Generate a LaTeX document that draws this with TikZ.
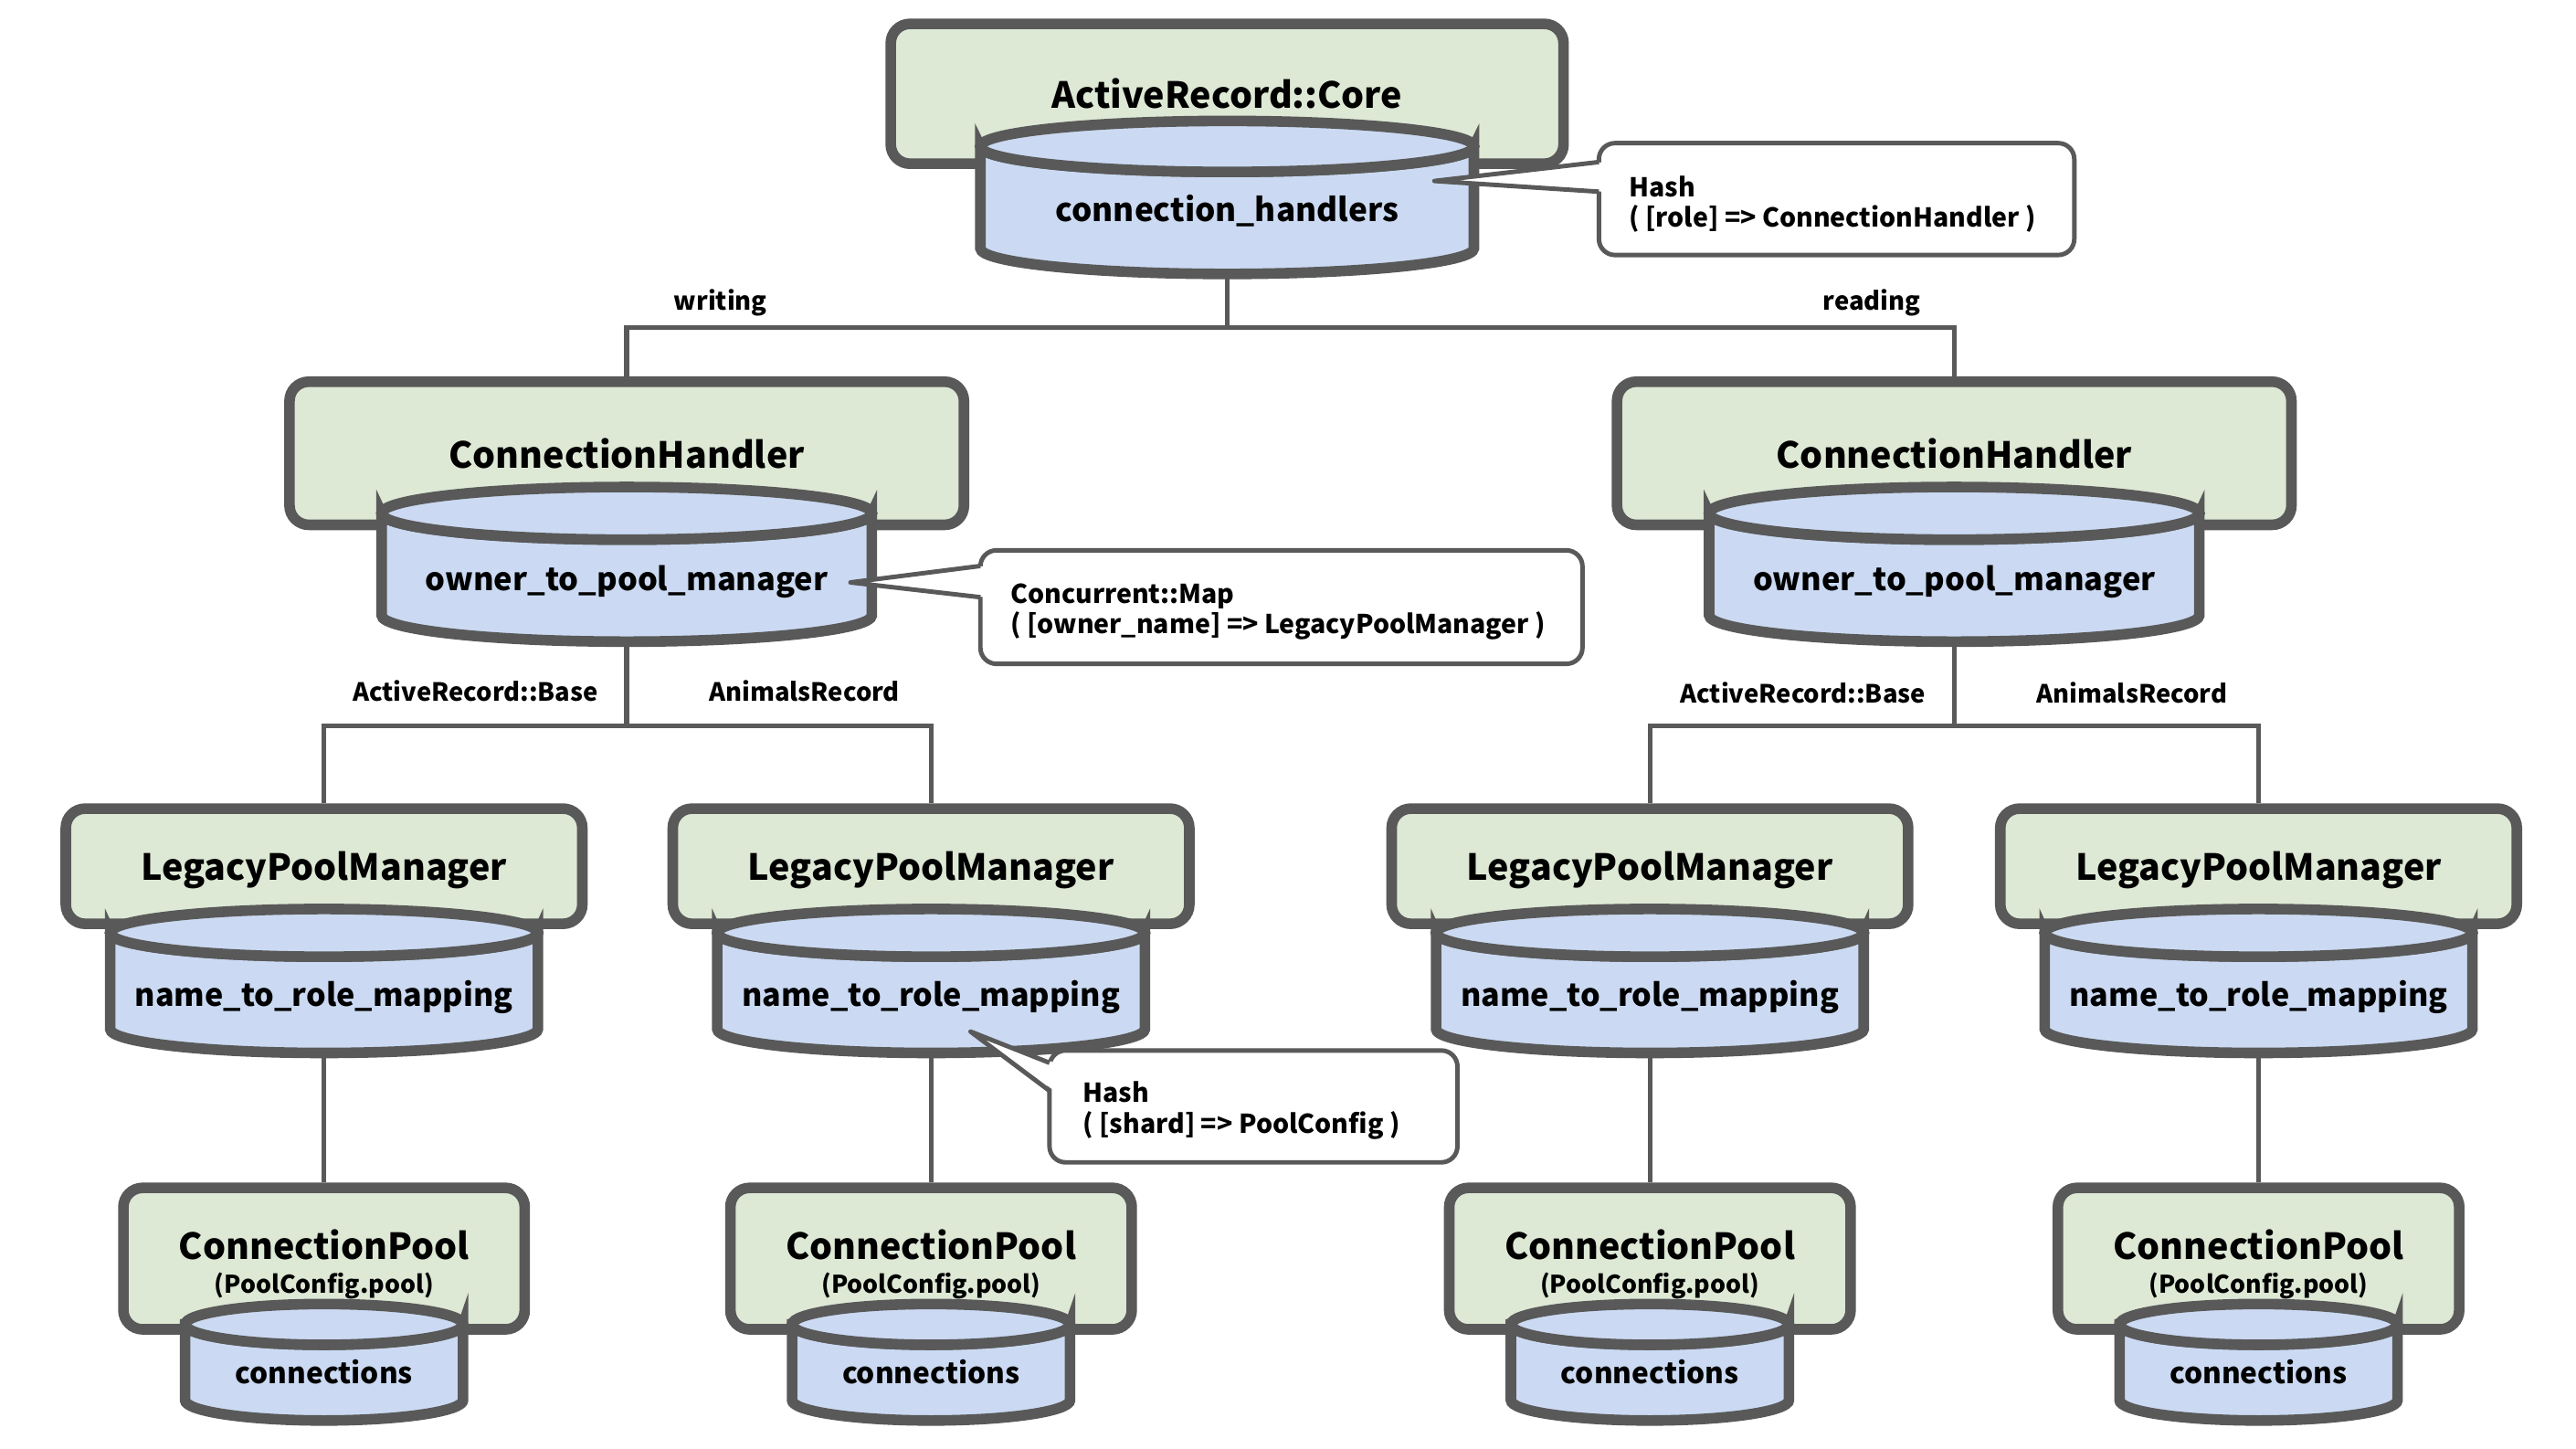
\documentclass[tikz,border=0pt]{standalone}
\usepackage{fontspec}
\setmainfont{Noto Sans CJK JP}
\usetikzlibrary{backgrounds}
\definecolor{lc}{RGB}{89,89,89}
\definecolor{boxgreen}{RGB}{221,232,213}
\definecolor{cylblue}{RGB}{203,218,242}
\def\ux{0.5124pt}
\newcommand\ttlfont{\fontsize{11.2}{13}\selectfont\bfseries}
\newcommand\cylfont{\fontsize{10}{12}\selectfont\bfseries}
\newcommand\opmfont{\fontsize{9.8}{12}\selectfont\bfseries}
\newcommand\ntrfont{\fontsize{9.7}{12}\selectfont\bfseries}
\newcommand\cnfont{\fontsize{9}{11}\selectfont\bfseries}
\newcommand\subfont{\fontsize{7.6}{9.5}\selectfont\bfseries}
\tikzset{
  box/.style={draw=lc, line width=3.3pt, fill=boxgreen, rounded corners=6pt, inner sep=0pt, align=center, font=\ttlfont},
  cylline/.style={draw=lc, line width=3.3pt, fill=cylblue},
  cyltext/.style={inner sep=0pt},
  conn/.style={draw=lc, line width=1.5pt},
  callout/.style={draw=lc, line width=1.4pt, fill=white, rounded corners=5pt, inner sep=0pt},
  pointer/.style={draw=lc, line width=1.4pt, line join=round},
  lbl/.style={inner sep=0pt, font=\fontsize{7.8}{9.4}\selectfont\bfseries},
  ctext/.style={inner sep=0pt, align=left, font=\fontsize{8.1}{9.5}\selectfont\bfseries},
}
% name, cx, top-ellipse y, bottom y, half width, ry, text y, text
\newcommand\cyl[8]{%
  \draw[cylline] ({#2-#5},#3) -- ({#2-#5},#4) arc[start angle=180,end angle=0,x radius=#5,y radius=#6]
     -- ({#2+#5},#3) arc[start angle=0,end angle=180,x radius=#5,y radius=#6] -- cycle;
  \draw[cylline] (#2,#3) ellipse[x radius=#5, y radius=#6];
  \node[cyltext] (#1) at (#2,#7) {#8};
  \coordinate (#1-bot) at (#2,{#4+#6});
}
\begin{document}
\begin{tikzpicture}[x=0.5124pt, y=-0.5124pt]
\useasboundingbox (0,0) rectangle (1566,880.7);

% --- level 0
\node[box, minimum width=409*\ux, minimum height=85*\ux] (core) at (746,57) {ActiveRecord::Core};
\cyl{chs}{746}{89}{151}{150}{15.5}{128}{\cylfont connection\_handlers}

% --- level 1
\node[box, minimum width=410*\ux, minimum height=87*\ux] (chL) at (381,275.5) {ConnectionHandler};
\cyl{opmL}{381}{312}{374}{149}{16}{353.5}{\opmfont owner\_to\_pool\_manager}
\node[box, minimum width=410*\ux, minimum height=87*\ux] (chR) at (1188,275.5) {ConnectionHandler};
\cyl{opmR}{1188}{312}{374}{149}{16}{353.5}{\opmfont owner\_to\_pool\_manager}

% --- level 2
\foreach \i/\cx in {1/197, 2/566, 3/1003, 4/1373}{
  \node[box, minimum width=314*\ux, minimum height=70*\ux, text depth=0pt] (lpm\i) at (\cx,526.5) {LegacyPoolManager};
  \cyl{ntr\i}{\cx}{567}{625.5}{130}{14.5}{606}{\ntrfont name\_to\_role\_mapping}
}

% --- level 3
\foreach \i/\cx in {1/197, 2/566, 3/1003, 4/1373}{
  \node[box, minimum width=244*\ux, minimum height=86*\ux] (cp\i) at (\cx,765) {\rule{0pt}{13pt}ConnectionPool\\[-2.5pt]{\subfont (PoolConfig.pool)}};
  \cyl{cn\i}{\cx}{805}{851}{84.5}{12.4}{834}{\cnfont connections}
}

% --- labels
\node[lbl] (lwr) at (438,184) {writing};
\node[lbl] (lrd) at (1138,184) {reading};
\node[lbl] (lb1) at (289,420) {ActiveRecord::Base};
\node[lbl] (la1) at (489,420) {AnimalsRecord};
\node[lbl] (lb2) at (1096,421) {ActiveRecord::Base};
\node[lbl] (la2) at (1296,421) {AnimalsRecord};

% --- callouts
\node[callout, minimum width=289*\ux, minimum height=68*\ux] (cb1) at (1116.5,121) {};
\fill[white] (975,98.5) -- (872,110) -- (975,116.5) -- cycle;
\draw[pointer] (972,98.5) -- (872,110) -- (972,116.5);
\node[ctext, anchor=west] (ct1) at (990,124) {Hash\\( [role] => ConnectionHandler )};

\node[callout, minimum width=366*\ux, minimum height=69*\ux] (cb2) at (779,369) {};
\fill[white] (599,344) -- (517,354) -- (599,363) -- cycle;
\draw[pointer] (596,344) -- (517,354) -- (596,363);
\node[ctext, anchor=west] (ct2) at (614,372) {Concurrent::Map\\( [owner\_name] => LegacyPoolManager )};

\node[callout, minimum width=248*\ux, minimum height=68*\ux] (cb3) at (762,672.5) {};
\fill[white] (641,646) -- (590,627) -- (641,663) -- cycle;
\draw[pointer] (638,646) -- (590,627) -- (638,663);
\node[ctext, anchor=west] (ct3) at (658,675) {Hash\\( [shard] => PoolConfig )};

% --- connectors (behind)
\begin{scope}[on background layer]
\fill[white] (0,0) rectangle (1566,880.7);
\coordinate (j0) at (746,199);
\draw[conn] (chs-bot) -- (j0);
\draw[conn] (j0) -| (chL.north);
\draw[conn] (j0) -| (chR.north);
\coordinate (j1) at (381,441);
\draw[conn] (opmL-bot) -- (j1);
\draw[conn] (j1) -| (lpm1.north);
\draw[conn] (j1) -| (lpm2.north);
\coordinate (j2) at (1188,441);
\draw[conn] (opmR-bot) -- (j2);
\draw[conn] (j2) -| (lpm3.north);
\draw[conn] (j2) -| (lpm4.north);
\foreach \i in {1,2,3,4}{
  \draw[conn] (ntr\i-bot) -- (cp\i.north);
}
\end{scope}
\end{tikzpicture}
\end{document}
